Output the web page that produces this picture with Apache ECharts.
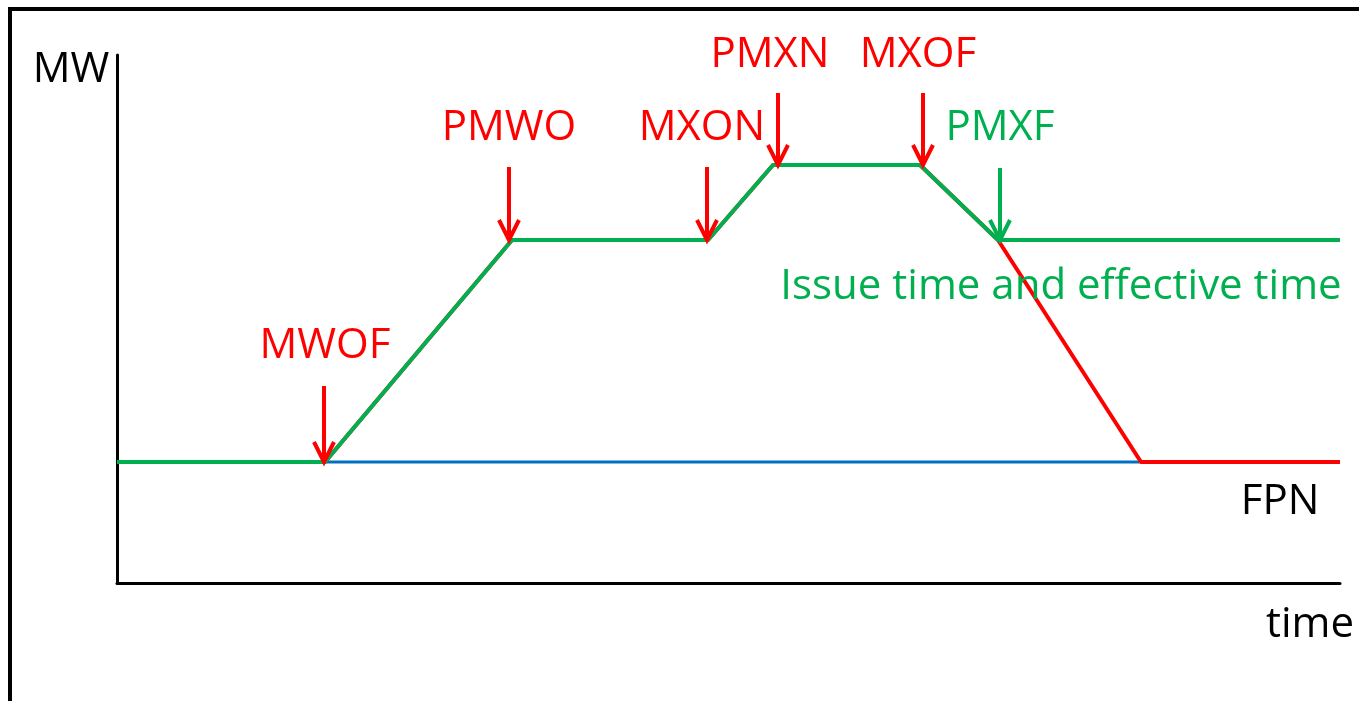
<!DOCTYPE html>
<html>
<head>
<meta charset="utf-8">
<script src="https://cdn.jsdelivr.net/npm/echarts@6/dist/echarts.min.js"></script>
<style>
html, body { margin:0; padding:0; background:#fff; }
#main { width:1359px; height:701px; }
</style>
</head>
<body>
<div id="main"></div>
<script type="text/javascript">
// 曲线数据 (time, MW)
var fpnLine   = [[0, 121], [1223, 121]];
var redLine   = [[0, 121], [208, 121], [395, 343], [591, 343], [656, 418], [803, 418], [881, 343], [1024, 121], [1223, 121]];
var greenLine = [[0, 121], [208, 121], [395, 343], [591, 343], [656, 418], [803, 418], [881, 343], [1223, 343]];

// 箭头: x, 起点, 终点, 颜色
var arrowX     = [207, 392, 590, 661, 806, 883];
var arrowTop   = [197, 416, 416, 490, 490, 415];
var arrowTip   = [121, 343, 343, 418, 418, 343];
var arrowColor = ['#FF0000', '#FF0000', '#FF0000', '#FF0000', '#FF0000', '#00B050'];

// 文字标注
var labelText  = ['MWOF', 'PMWO', 'MXON', 'PMXN', 'MXOF', 'PMXF', 'Issue time and effective time', 'FPN'];
var labelX     = [208, 392, 585, 653, 801, 883, 944, 1163];
var labelY     = [237, 455, 455, 528, 528, 455, 296, 81];
var labelColor = ['#FF0000', '#FF0000', '#FF0000', '#FF0000', '#FF0000', '#00B050', '#00B050', '#000000'];

var FONT = 'Open Sans';

var arrowData = arrowX.map(function (x, i) { return [x, arrowTop[i], arrowTip[i], i]; });
var labelData = labelText.map(function (t, i) {
    return { name: t, value: [labelX[i], labelY[i]], label: { color: labelColor[i] } };
});

var myChart = echarts.init(document.getElementById('main'));
var option = {
    animation: false,
    backgroundColor: '#fff',
    grid: { left: 117, right: 19, top: 55, bottom: 118 },
    xAxis: {
        type: 'value', min: 0, max: 1223,
        axisLine: { show: true, onZero: false, lineStyle: { color: '#000', width: 3 } },
        axisTick: { show: false }, axisLabel: { show: false }, splitLine: { show: false }
    },
    yAxis: {
        type: 'value', min: 0, max: 528,
        axisLine: { show: true, onZero: false, lineStyle: { color: '#000', width: 3 } },
        axisTick: { show: false }, axisLabel: { show: false }, splitLine: { show: false }
    },
    graphic: [
        { type: 'rect', shape: { x: 10, y: 9, width: 1500, height: 900 },
          style: { fill: 'none', stroke: '#000', lineWidth: 4 }, z: 100 },
        { type: 'text', x: 71, y: 70, style: { text: 'MW', font: '42px "' + FONT + '"', fill: '#000', align: 'center', verticalAlign: 'middle' } },
        { type: 'text', x: 1310, y: 625, style: { text: 'time', font: '42px "' + FONT + '"', fill: '#000', align: 'center', verticalAlign: 'middle' } }
    ],
    series: [
        { name: 'FPN', type: 'line', data: fpnLine, symbol: 'none', lineStyle: { color: '#0070C0', width: 3 }, z: 2 },
        { name: 'red', type: 'line', data: redLine, symbol: 'none', lineStyle: { color: '#FF0000', width: 4 }, z: 3 },
        { name: 'green', type: 'line', data: greenLine, symbol: 'none', lineStyle: { color: '#00B050', width: 4 }, z: 4 },
        {
            name: 'arrows', type: 'custom', data: arrowData, clip: false, z: 5,
            renderItem: function (params, api) {
                var top = api.coord([api.value(0), api.value(1)]);
                var tip = api.coord([api.value(0), api.value(2)]);
                var c = arrowColor[api.value(3)];
                var st = { stroke: c, lineWidth: 4, fill: 'none' };
                return {
                    type: 'group',
                    children: [
                        { type: 'line', shape: { x1: top[0], y1: top[1], x2: tip[0], y2: tip[1] }, style: st },
                        { type: 'polyline', shape: { points: [[tip[0] - 10, tip[1] - 20], tip, [tip[0] + 10, tip[1] - 20]] }, style: st }
                    ]
                };
            }
        },
        {
            name: 'labels', type: 'scatter', data: labelData, clip: false, z: 6,
            symbolSize: 1, itemStyle: { color: 'rgba(0,0,0,0)', opacity: 1 },
            label: {
                show: true, position: 'inside', formatter: '{b}',
                fontFamily: FONT, fontSize: 42, opacity: 1
            }
        }
    ]
};
myChart.setOption(option);
</script>
</body>
</html>
